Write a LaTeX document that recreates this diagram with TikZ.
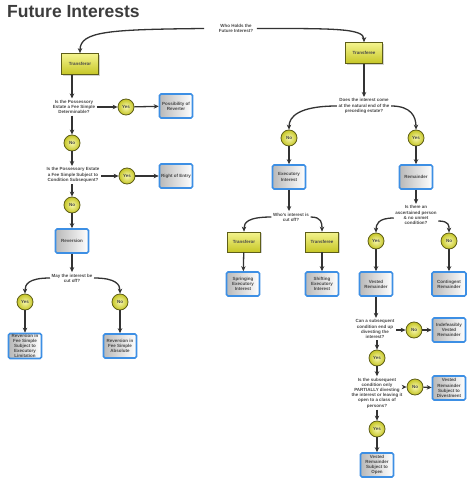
\documentclass[tikz,border=0pt]{standalone}
\usepackage{fontspec}
\setmainfont{Liberation Sans}
\usetikzlibrary{arrows.meta,shadows}
\definecolor{textgray}{HTML}{474747}
\definecolor{linegray}{HTML}{333333}
\definecolor{titlegray}{HTML}{3C3C3C}
\definecolor{yellowlight}{HTML}{F4F48E}
\definecolor{yellowdark}{HTML}{C6C626}
\definecolor{olivedark}{HTML}{5E5E18}
\definecolor{boxblue}{HTML}{3D8FE4}
\begin{document}
\begin{tikzpicture}[x=1bp,y=-1bp,
		every node/.style={font=\fontsize{4.5}{5.2}\selectfont\bfseries, text=textgray, align=center},
		quest/.style={inner sep=1.5bp},
		party/.style={draw=olivedark, line width=0.7bp, top color=yellowlight, bottom color=yellowdark, minimum width=37bp, minimum height=21bp, inner sep=1bp, drop shadow={opacity=0.35, shadow xshift=1.2bp, shadow yshift=-1.2bp}},
		yesno/.style={circle, draw=olivedark, line width=0.8bp, inner color=yellowlight!70!white, outer color=yellowdark, minimum size=16bp, inner sep=0pt},
		result/.style={draw=boxblue, line width=1.6bp, rounded corners=1.5bp, left color=gray!55, right color=white, minimum width=33bp, minimum height=24bp, inner sep=0.5bp},
		link/.style={draw=linegray, line width=1.3bp, -{Stealth[length=5bp,width=4.5bp]}}]
		\useasboundingbox (0,0) rectangle (474,485);
		
		\node[font=\fontsize{17.6}{20}\selectfont\bfseries, text=titlegray, anchor=west, inner sep=0pt] (title) at (7,11.7) {Future Interests};
		\node[quest] (who) at (236,28.5) {Who Holds the\\Future Interest?};
		\node[party] (trf) at (80,64) {Transferor};
		\node[party] (tee) at (364,53) {Transferee};
		
		\node[quest] (q1) at (74,107) {Is the Possessory\\Estate a Fee Simple\\Determinable?};
		\node[yesno] (yes1) at (126,107) {Yes};
		\node[result] (por) at (176,106) {Possibility of\\Reverter};
		\node[yesno] (no1) at (72,143) {No};
		\node[quest] (q2) at (73,175) {Is the Possessory Estate\\a Fee Simple Subject to\\Condition Subsequent?};
		\node[yesno] (yes2) at (127,176) {Yes};
		\node[result] (roe) at (176,176) {Right of Entry};
		\node[yesno] (no2) at (72,205) {No};
		\node[result] (rev) at (72,241) {Reversion};
		\node[quest] (q3) at (72,278) {May the interest be\\cut off?};
		\node[yesno] (yes3) at (25,302) {Yes};
		\node[yesno] (no3) at (120,302) {No};
		\node[result] (rfse) at (25,346) {Reversion in\\Fee Simple\\Subject to\\Executory\\Limitation};
		\node[result] (rfsa) at (120,346) {Reversion in\\Fee Simple\\Absolute};
		
		\node[quest] (q4) at (364,106) {Does the interest come\\at the natural end of the\\preceding estate?};
		\node[yesno] (no4) at (289,138) {No};
		\node[yesno] (yes4) at (416,138) {Yes};
		\node[result] (exe) at (289,177) {Executory\\Interest};
		\node[result] (rem) at (416,177) {Remainder};
		\node[quest] (q5) at (291,217) {Who's interest is\\cut off?};
		\node[party, minimum width=33bp, minimum height=20bp] (trf2) at (244,242) {Transferor};
		\node[party, minimum width=33bp, minimum height=20bp] (tee2) at (322,242) {Transferee};
		\node[result] (spr) at (243,284) {Springing\\Executory\\Interest};
		\node[result] (shi) at (322,284) {Shifting\\Executory\\Interest};
		\node[quest] (q6) at (416,215) {Is there an\\ascertained person\\\& no unmet\\condition?};
		\node[yesno] (yes6) at (376,241) {Yes};
		\node[yesno] (no6) at (449,241) {No};
		\node[result] (ves) at (376,284) {Vested\\Remainder};
		\node[result, minimum width=34bp] (con) at (449,284) {Contingent\\Remainder};
		\node[quest] (q7) at (375,329) {Can a subsequent\\condition end up\\divesting the\\interest?};
		\node[yesno] (no7) at (414,330) {No};
		\node[result] (ind) at (449,330) {Indefeasibly\\Vested\\Remainder};
		\node[yesno] (yes7) at (377,358) {Yes};
		\node[quest] (q8) at (377,393) {Is the subsequent\\condition only\\PARTIALLY divesting\\the interest or leaving it\\open to a class of\\persons?};
		\node[yesno] (no8) at (415,387) {No};
		\node[result] (vrsd) at (449,388) {Vested\\Remainder\\Subject to\\Divestment};
		\node[yesno] (yes8) at (377,429) {Yes};
		\node[result] (vrso) at (377,465) {Vested\\Remainder\\Subject to\\Open};
		
		\draw[link] ([xshift=-13bp]who.west) .. controls +(-95,1) and +(0,-22) .. (trf.north);
		\draw[link] ([xshift=2bp]who.east) .. controls +(75,0) and +(0,-14) .. (tee.north);
		
		\draw[link] (trf.south -| no1) -- (q1.north -| no1);
		\draw[link] (q1.east |- yes1) -- (yes1);
		\draw[link] (yes1) -- (por);
		\draw[link] (q1.south -| no1) -- (no1);
		\draw[link] (no1) -- (q2.north -| no1);
		\draw[link] (q2.east |- yes2) -- (yes2);
		\draw[link] (yes2) -- (roe);
		\draw[link] (q2.south -| no2) -- (no2);
		\draw[link] (no2) -- (rev);
		\draw[link] (rev) -- (q3);
		\draw[link] (q3.west) .. controls +(-22,0) and +(0,-9) .. (yes3.north);
		\draw[link] (q3.east) .. controls +(22,0) and +(0,-9) .. (no3.north);
		\draw[link] (yes3) -- (rfse);
		\draw[link] (no3) -- (rfsa);
		
		\draw[link] (tee) -- (q4);
		\draw[link] (q4.west) .. controls +(-38,0) and +(0,-13) .. (no4.north);
		\draw[link] (q4.east) .. controls +(20,0) and +(0,-13) .. (yes4.north);
		\draw[link] (no4) -- (exe);
		\draw[link] (yes4) -- (rem);
		\draw[link] (exe.south) -- (q5.north -| exe);
		\draw[link] (q5.west) .. controls +(-24,0) and +(0,-9) .. (trf2.north);
		\draw[link] (q5.east) .. controls +(11,0) and +(0,-9) .. (tee2.north);
		\draw[link] (trf2) -- (spr);
		\draw[link] (tee2) -- (shi);
		\draw[link] (rem) -- (q6);
		\draw[link] ([yshift=-3bp]q6.west) .. controls +(-16,0) and +(0,-8) .. (yes6.north);
		\draw[link] ([yshift=-6bp]q6.east) .. controls +(11,0) and +(0,-7) .. (no6.north);
		\draw[link] (yes6) -- (ves);
		\draw[link] (no6) -- (con);
		\draw[link] (ves.south) -- (q7.north -| ves);
		\draw[link] (q7.east |- no7) -- (no7);
		\draw[link] (no7) -- (ind);
		\draw[link] (q7.south -| yes7) -- (yes7);
		\draw[link] (yes7) -- (q8.north -| yes7);
		\draw[link] (q8.east |- no8) -- (no8);
		\draw[link] (no8) -- (vrsd);
		\draw[link] (q8.south -| yes8) -- (yes8);
		\draw[link] (yes8) -- (vrso);
		
	\end{tikzpicture}
\end{document}
